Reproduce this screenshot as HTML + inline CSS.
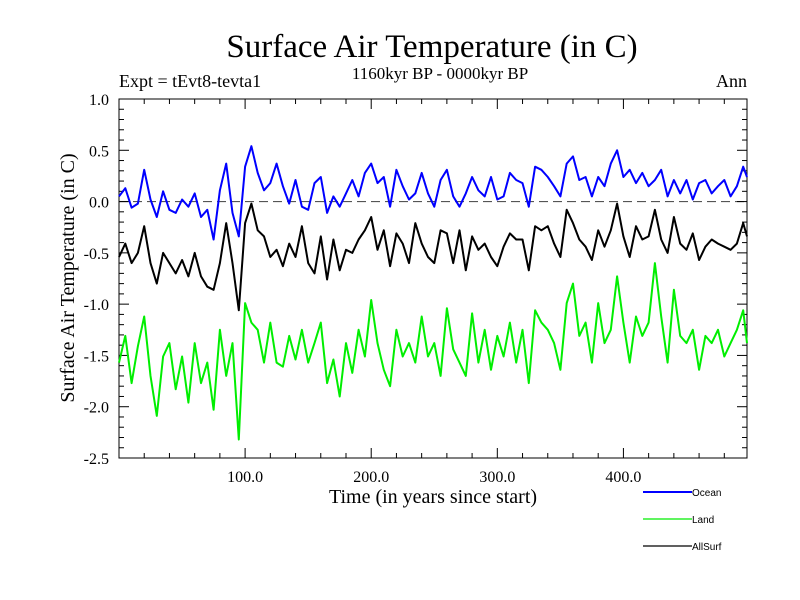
<!DOCTYPE html>
<html><head><meta charset="utf-8"><style>
body{margin:0;background:#fff;}
svg{display:block;font-family:"Liberation Serif",serif;}
</style></head><body>
<svg id="chart" width="800" height="600" viewBox="0 0 800 600">
<text x="432" y="57" font-size="33" text-anchor="middle">Surface Air Temperature (in C)</text>
<text x="440" y="79" font-size="17" text-anchor="middle">1160kyr BP - 0000kyr BP</text>
<text x="119" y="87" font-size="18">Expt = tEvt8-tevta1</text>
<text x="747" y="87" font-size="18" text-anchor="end">Ann</text>
<text x="433" y="503" font-size="20" text-anchor="middle">Time (in years since start)</text>
<text transform="translate(74,278) rotate(-90)" font-size="20" text-anchor="middle">Surface Air Temperature (in C)</text>
<g id="axes"></g>
<g id="series"></g>
<g id="legend" font-family="Liberation Sans, sans-serif" font-size="10"></g>
</svg>
<script>
const years=[0,5,10,15,20,25,30,35,40,45,50,55,60,65,70,75,80,85,90,95,100,105,110,115,120,125,130,135,140,145,150,155,160,165,170,175,180,185,190,195,200,205,210,215,220,225,230,235,240,245,250,255,260,265,270,275,280,285,290,295,300,305,310,315,320,325,330,335,340,345,350,355,360,365,370,375,380,385,390,395,400,405,410,415,420,425,430,435,440,445,450,455,460,465,470,475,480,485,490,495,498];
const ocean=[0.05,0.13,-0.06,-0.02,0.31,0.02,-0.15,0.1,-0.08,-0.11,0.02,-0.05,0.08,-0.15,-0.08,-0.37,0.11,0.37,-0.11,-0.34,0.34,0.54,0.28,0.11,0.18,0.37,0.15,-0.02,0.21,-0.05,-0.08,0.18,0.24,-0.11,0.05,-0.05,0.08,0.21,0.05,0.28,0.37,0.18,0.24,-0.05,0.31,0.15,0.02,0.08,0.28,0.08,-0.05,0.21,0.31,0.05,-0.05,0.08,0.24,0.11,0.05,0.24,0.02,0.05,0.28,0.21,0.18,-0.05,0.34,0.31,0.24,0.15,0.05,0.37,0.44,0.21,0.24,0.05,0.24,0.15,0.37,0.5,0.24,0.31,0.18,0.28,0.15,0.21,0.31,0.05,0.21,0.08,0.21,0.02,0.18,0.21,0.08,0.15,0.21,0.05,0.15,0.34,0.24];
const land=[-1.57,-1.31,-1.77,-1.41,-1.12,-1.7,-2.09,-1.51,-1.38,-1.83,-1.51,-1.96,-1.38,-1.77,-1.57,-2.03,-1.25,-1.7,-1.38,-2.32,-0.99,-1.18,-1.25,-1.57,-1.18,-1.57,-1.61,-1.31,-1.54,-1.25,-1.57,-1.38,-1.18,-1.77,-1.54,-1.9,-1.38,-1.67,-1.25,-1.51,-0.96,-1.38,-1.64,-1.8,-1.25,-1.51,-1.38,-1.57,-1.12,-1.51,-1.38,-1.7,-1.04,-1.44,-1.57,-1.7,-1.09,-1.57,-1.25,-1.64,-1.31,-1.51,-1.18,-1.57,-1.25,-1.77,-1.06,-1.18,-1.25,-1.38,-1.64,-0.99,-0.8,-1.31,-1.18,-1.57,-0.99,-1.38,-1.25,-0.73,-1.18,-1.57,-1.12,-1.31,-1.18,-0.6,-1.12,-1.57,-0.86,-1.31,-1.38,-1.25,-1.64,-1.31,-1.38,-1.25,-1.51,-1.38,-1.25,-1.06,-1.38];
const allsurf=[-0.54,-0.41,-0.6,-0.5,-0.24,-0.6,-0.8,-0.5,-0.6,-0.7,-0.57,-0.73,-0.5,-0.73,-0.83,-0.86,-0.6,-0.21,-0.6,-1.06,-0.21,-0.02,-0.28,-0.34,-0.54,-0.47,-0.63,-0.41,-0.54,-0.24,-0.6,-0.7,-0.34,-0.76,-0.37,-0.67,-0.47,-0.5,-0.37,-0.28,-0.15,-0.47,-0.28,-0.63,-0.31,-0.41,-0.6,-0.21,-0.41,-0.54,-0.6,-0.28,-0.31,-0.6,-0.28,-0.67,-0.34,-0.47,-0.41,-0.54,-0.63,-0.44,-0.31,-0.37,-0.37,-0.67,-0.24,-0.28,-0.24,-0.41,-0.54,-0.08,-0.21,-0.37,-0.44,-0.57,-0.28,-0.44,-0.28,-0.02,-0.34,-0.54,-0.24,-0.37,-0.34,-0.08,-0.37,-0.5,-0.15,-0.41,-0.47,-0.31,-0.57,-0.44,-0.37,-0.41,-0.44,-0.47,-0.41,-0.21,-0.34];
const xTickVals=[100,200,300,400];
const xTickLabels=["100.0","200.0","300.0","400.0"];
const yTickVals=[1.0,0.5,0.0,-0.5,-1.0,-1.5,-2.0,-2.5];
const yTickLabels=["1.0","0.5","0.0","-0.5","-1.0","-1.5","-2.0","-2.5"];
const seriesNames=["Ocean","Land","AllSurf"];
const seriesColors=["#0000ff","#00ee00","#000000"];

const L=119,R=747,T=99,B=458,X0=0,X1=498,Y0=-2.5,Y1=1.0;
const NS="http://www.w3.org/2000/svg";
function xs(v){return L+(v-X0)/(X1-X0)*(R-L);}
function ys(v){return B-(v-Y0)/(Y1-Y0)*(B-T);}
function mk(tag,attrs,parent){const e=document.createElementNS(NS,tag);for(const k in attrs)e.setAttribute(k,attrs[k]);parent.appendChild(e);return e;}
const axes=document.getElementById('axes'),ser=document.getElementById('series'),leg=document.getElementById('legend');

// zero line
const zl=mk('line',{x1:L,x2:R,y1:ys(0),y2:ys(0),stroke:'#555','stroke-dasharray':'9,5','stroke-width':1.2},axes);



// series
const data=[ocean,land,allsurf];
data.forEach((arr,i)=>{
  const d=arr.map((v,j)=>(j?'L':'M')+xs(years[j]).toFixed(1)+','+ys(v).toFixed(1)).join('');
  const p=mk('path',{d:d,fill:'none',stroke:seriesColors[i],'stroke-width':2,'stroke-linejoin':'round'},ser);
  
  
});

// frame
const fr=mk('rect',{x:L,y:T,width:R-L,height:B-T,fill:'none',stroke:'#000','stroke-width':1},axes);



// x ticks
for(let v=20;v<X1;v+=20){
  const major=v%100===0, len=major?10:5, x=xs(v);
  mk('line',{x1:x,x2:x,y1:B,y2:B-len,stroke:'#000'},axes);
  mk('line',{x1:x,x2:x,y1:T,y2:T+len,stroke:'#000'},axes);
}
xTickVals.forEach((v,i)=>{
  const t=mk('text',{x:xs(v),y:B+24,'font-size':16,'text-anchor':'middle'},axes);
  t.textContent=xTickLabels[i];
  
  
});
// y ticks
for(let k=-25;k<=10;k++){
  const v=k/10, major=k%5===0, len=major?10:5, y=ys(v);
  mk('line',{x1:L,x2:L+len,y1:y,y2:y,stroke:'#000'},axes);
  mk('line',{x1:R,x2:R-len,y1:y,y2:y,stroke:'#000'},axes);
}
yTickVals.forEach((v,i)=>{
  const t=mk('text',{x:L-10,y:ys(v)+6,'font-size':16,'text-anchor':'end'},axes);
  t.textContent=yTickLabels[i];
  
  
});

// legend
const legY=[492,519,546];
seriesNames.forEach((n,i)=>{
  const g=mk('g',{},leg);
  
  
  mk('line',{x1:643,x2:692,y1:legY[i],y2:legY[i],stroke:seriesColors[i],'stroke-width':i===0?2:1.3},g);
  const t=mk('text',{x:692,y:legY[i]+4},g);
  t.textContent=n;
});
</script>
</body></html>
